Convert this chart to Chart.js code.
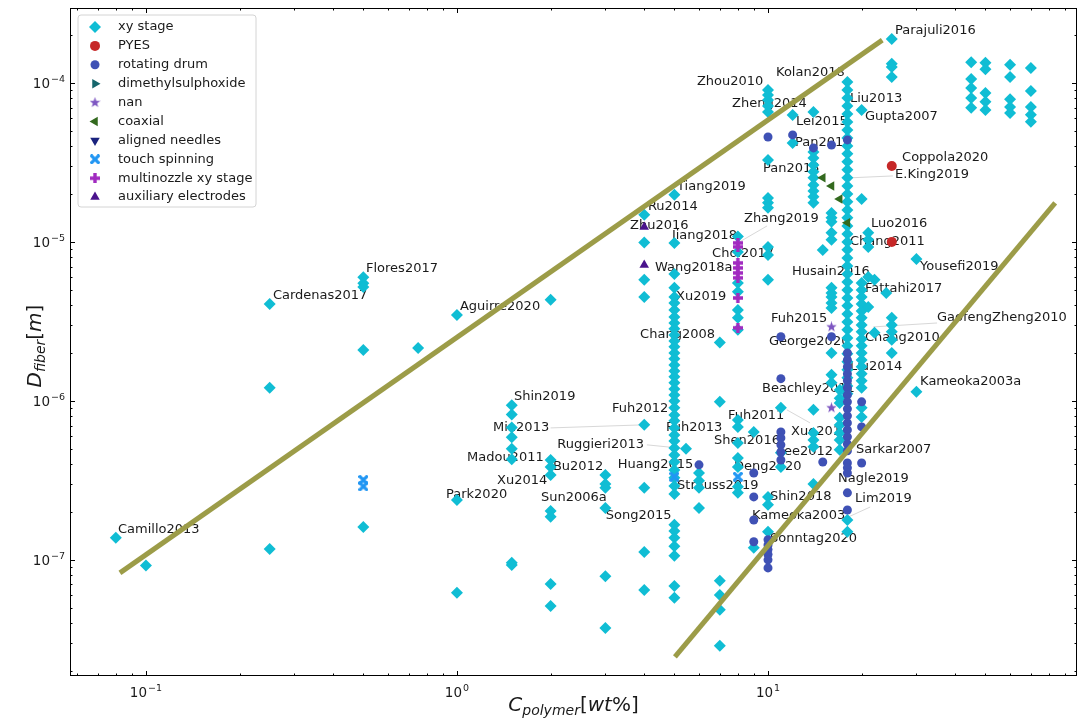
<!DOCTYPE html>
<html>
<head>
<meta charset="utf-8">
<title>Fiber diameter vs polymer concentration</title>
<script src="https://cdn.jsdelivr.net/npm/chart.js@4.4.1/dist/chart.umd.min.js"></script>
<style>
    html, body { margin: 0; padding: 0; background: #fff; }
    canvas { display: block; }
</style>
</head>
<body>
<canvas id="fiberChart" width="1078" height="720"></canvas>
<script>
// Axis limits (both log)
const xLimits = [0.057, 98.5];
const yLimits = [1.86e-8, 2.96e-4];

// Points per setup: [C_polymer (wt%), D_fiber (m)]
const xyStage = [
    [0.08, 1.38e-7], [0.1, 9.2e-8],
    [0.25, 4.07e-6], [0.25, 1.21e-6], [0.25, 1.17e-7],
    [0.5, 6.0e-6], [0.5, 5.5e-6], [0.5, 5.2e-6], [0.5, 2.09e-6], [0.5, 1.61e-7],
    [0.75, 2.15e-6],
    [1, 3.47e-6], [1, 2.38e-7], [1, 6.2e-8],
    [1.5, 9.4e-7], [1.5, 8.2e-7], [1.5, 6.8e-7], [1.5, 5.9e-7], [1.5, 5.0e-7], [1.5, 4.3e-7], [1.5, 9.6e-8], [1.5, 9.3e-8],
    [2, 4.32e-6], [2, 4.25e-7], [2, 3.84e-7], [2, 3.42e-7], [2, 2.03e-7], [2, 1.87e-7], [2, 7.06e-8], [2, 5.13e-8],
    [3, 3.42e-7], [3, 3.0e-7], [3, 2.84e-7], [3, 2.12e-7], [3, 7.9e-8], [3, 3.73e-8],
    [4, 1.48e-5], [4, 9.9e-6], [4, 5.77e-6], [4, 4.5e-6], [4, 7.07e-7], [4, 2.84e-7], [4, 1.12e-7], [4, 6.47e-8],
    [5, 1.98e-5], [5, 9.86e-6], [5, 6.29e-6], [5, 5.14e-6], [5, 4.51e-6], [5, 4.13e-6], [5, 3.73e-6], [5, 3.37e-6],
    [5, 3.09e-6], [5, 2.84e-6], [5, 2.6e-6], [5, 2.38e-6], [5, 2.19e-6], [5, 2.0e-6], [5, 1.84e-6], [5, 1.68e-6],
    [5, 1.54e-6], [5, 1.42e-6], [5, 1.3e-6], [5, 1.19e-6], [5, 1.09e-6], [5, 1.0e-6], [5, 9.04e-7], [5, 8.16e-7],
    [5, 7.49e-7], [5, 6.76e-7], [5, 6.11e-7], [5, 5.6e-7], [5, 5.06e-7], [5, 4.57e-7], [5, 4.13e-7], [5, 3.68e-7],
    [5, 3.28e-7], [5, 2.92e-7], [5, 2.6e-7], [5, 1.66e-7], [5, 1.52e-7], [5, 1.38e-7], [5, 1.22e-7], [5, 1.06e-7],
    [5, 6.86e-8], [5, 5.77e-8],
    [5.45, 5.0e-7],
    [6, 3.52e-7], [6, 3.14e-7], [6, 2.84e-7], [6, 2.12e-7],
    [7, 2.33e-6], [7, 9.86e-7], [7, 7.38e-8], [7, 6.02e-8], [7, 4.85e-8], [7, 2.88e-8],
    [8, 1.08e-5], [8, 8.65e-6], [8, 5.52e-6], [8, 4.85e-6], [8, 3.73e-6], [8, 3.33e-6], [8, 2.8e-6],
    [8, 7.59e-7], [8, 6.86e-7], [8, 5.44e-7], [8, 4.38e-7], [8, 3.84e-7], [8, 2.88e-7], [8, 2.64e-7],
    [9, 6.38e-7], [9, 1.19e-7],
    [10, 9.04e-5], [10, 8.4e-5], [10, 7.82e-5], [10, 7.17e-5], [10, 6.57e-5], [10, 3.28e-5], [10, 1.89e-5],
    [10, 1.76e-5], [10, 1.64e-5], [10, 9.3e-6], [10, 8.28e-6], [10, 5.77e-6], [10, 2.49e-7], [10, 2.22e-7], [10, 1.5e-7],
    [11, 9.04e-7], [11, 4.71e-7], [11, 3.84e-7],
    [12, 6.29e-5], [12, 4.19e-5],
    [14, 6.57e-5], [14, 3.68e-5], [14, 3.37e-5], [14, 3.05e-5], [14, 2.76e-5], [14, 2.53e-5], [14, 2.28e-5],
    [14, 2.09e-5], [14, 1.92e-5], [14, 1.76e-5], [14, 8.78e-7], [14, 6.29e-7], [14, 5.68e-7], [14, 5.14e-7], [14, 3.0e-7],
    [15, 8.9e-6],
    [16, 1.52e-5], [16, 1.42e-5], [16, 1.34e-5], [16, 1.14e-5], [16, 1.03e-5], [16, 5.14e-6], [16, 4.77e-6],
    [16, 4.51e-6], [16, 4.13e-6], [16, 3.84e-6], [16, 2.0e-6], [16, 1.46e-6], [16, 1.3e-6],
    [17, 1.17e-6], [17, 1.04e-6], [17, 9.71e-7], [17, 7.82e-7], [17, 7.06e-7], [17, 6.29e-7], [17, 5.68e-7], [17, 4.92e-7],
    [18, 1.015e-4], [18, 9.04e-5], [18, 8.05e-5], [18, 7.17e-5], [18, 6.38e-5], [18, 5.68e-5], [18, 5.06e-5],
    [18, 4.51e-5], [18, 4.01e-5], [18, 3.58e-5], [18, 3.19e-5], [18, 2.84e-5], [18, 2.53e-5], [18, 2.25e-5],
    [18, 2.0e-5], [18, 1.79e-5], [18, 1.59e-5], [18, 1.42e-5], [18, 1.26e-5], [18, 1.12e-5], [18, 1.0e-5],
    [18, 8.91e-6], [18, 7.93e-6], [18, 7.06e-6], [18, 6.29e-6], [18, 5.6e-6], [18, 4.99e-6], [18, 4.44e-6],
    [18, 3.96e-6], [18, 3.52e-6], [18, 3.14e-6], [18, 2.8e-6], [18, 2.49e-6], [18, 2.22e-6], [18, 1.98e-6],
    [18, 1.76e-6], [18, 1.57e-6], [18, 1.4e-6], [18, 1.24e-6], [18, 1.11e-6], [18, 1.78e-7], [18, 1.5e-7],
    [20, 6.76e-5], [20, 1.86e-5], [20, 5.52e-6], [20, 4.99e-6], [20, 4.51e-6], [20, 4.07e-6], [20, 3.68e-6],
    [20, 3.33e-6], [20, 3.0e-6], [20, 2.72e-6], [20, 2.45e-6], [20, 2.22e-6], [20, 2.0e-6], [20, 1.81e-6],
    [20, 1.64e-6], [20, 1.48e-6], [20, 1.34e-6], [20, 1.21e-6], [20, 9.04e-7], [20, 7.93e-7],
    [21, 1.14e-5], [21, 1.03e-5], [21, 9.3e-6], [21, 6.02e-6], [21, 3.9e-6],
    [22, 5.77e-6], [22, 2.68e-6],
    [24, 4.77e-6],
    [25, 1.89e-4], [25, 1.32e-4], [25, 1.26e-4], [25, 1.09e-4], [25, 3.33e-6], [25, 3.0e-6], [25, 2.72e-6], [25, 2.42e-6], [25, 2.0e-6],
    [30, 7.82e-6], [30, 1.14e-6],
    [45, 1.35e-4], [45, 1.06e-4], [45, 9.3e-5], [45, 8.05e-5], [45, 6.97e-5],
    [50, 1.34e-4], [50, 1.22e-4], [50, 8.65e-5], [50, 7.6e-5], [50, 6.76e-5],
    [60, 1.3e-4], [60, 1.09e-4], [60, 7.9e-5], [60, 7.06e-5], [60, 6.47e-5],
    [70, 1.24e-4], [70, 8.9e-5], [70, 7.06e-5], [70, 6.3e-5], [70, 5.7e-5]
];
const pyes = [[25, 3.0e-5], [25, 1.0e-5]];
const rotatingDrum = [
    [6, 3.96e-7],
    [9, 3.52e-7], [9, 2.49e-7], [9, 1.78e-7], [9, 1.3e-7],
    [10, 4.57e-5], [10, 1.34e-7], [10, 1.24e-7], [10, 1.16e-7], [10, 1.08e-7], [10, 1.0e-7], [10, 8.9e-8],
    [11, 2.53e-6], [11, 1.38e-6], [11, 6.38e-7], [11, 5.85e-7], [11, 5.29e-7], [11, 4.77e-7], [11, 4.25e-7],
    [12, 4.71e-5], [14, 3.9e-5], [15, 4.13e-7], [16, 4.07e-5], [16, 2.53e-6],
    [18, 4.38e-5], [18, 2.0e-6], [18, 1.81e-6], [18, 1.64e-6], [18, 1.48e-6], [18, 1.34e-6], [18, 1.21e-6],
    [18, 1.09e-6], [18, 9.86e-7], [18, 8.91e-7], [18, 8.05e-7], [18, 7.27e-7], [18, 6.57e-7], [18, 5.94e-7],
    [18, 5.36e-7], [18, 4.85e-7], [18, 4.07e-7], [18, 3.79e-7], [18, 3.52e-7], [18, 2.64e-7], [18, 2.06e-7],
    [20, 9.86e-7], [20, 6.86e-7], [20, 4.07e-7]
];
const dimethylsulphoxide = [];
const nanSetup = [[16, 2.92e-6], [16, 9.04e-7]];
const coaxial = [[15, 2.53e-5], [16, 2.25e-5], [17, 1.86e-5], [18, 1.32e-5]];
const alignedNeedles = [];
const touchSpinning = [[0.5, 3.18e-7], [0.5, 2.9e-7], [5, 3.33e-7], [8, 3.33e-7]];
const multinozzle = [[8, 9.86e-6], [8, 9.3e-6], [8, 7.38e-6], [8, 6.86e-6], [8, 6.38e-6], [8, 5.94e-6], [8, 4.44e-6], [8, 2.88e-6]];
const auxElectrodes = [[4, 1.24e-5], [4, 7.17e-6]];

// Bounding lines
const upperBound = [[0.0825, 8.28e-8], [23.3, 1.86e-4]];
const lowerBound = [[5.02, 2.45e-8], [83.8, 1.76e-5]];

// Reference labels: [text, x, y] (text starts at x, centred on y)
const refLabels = [
    ['Parajuli2016', 25.6, 2.12e-4], ['Zhou2010', 5.91, 1.015e-4], ['Kolan2018', 10.61, 1.156e-4],
    ['Zheng2014', 7.66, 7.38e-5], ['Liu2013', 18.35, 7.93e-5], ['Gupta2007', 20.51, 6.11e-5],
    ['Lei2015', 12.3, 5.68e-5], ['Pan2014', 12.22, 4.19e-5], ['Pan2015', 9.64, 2.88e-5],
    ['Coppola2020', 26.98, 3.38e-5], ['E.King2019', 25.61, 2.64e-5], ['Tiang2019', 5.1, 2.22e-5],
    ['Ru2014', 4.11, 1.66e-5], ['Zhu2016', 3.6, 1.26e-5], ['Jiang2018', 4.91, 1.09e-5],
    ['Zhang2019', 8.37, 1.4e-5], ['Luo2016', 21.44, 1.3e-5], ['Chang2011', 18.35, 1.0e-5],
    ['Choi2017', 6.61, 8.4e-6], ['Husain2016', 11.95, 6.48e-6], ['Wang2018a', 4.33, 6.86e-6],
    ['Yousefi2019', 30.83, 6.96e-6], ['Fattahi2017', 20.51, 5.06e-6], ['Xu2019', 5.06, 4.51e-6],
    ['GaofengZheng2010', 34.95, 3.33e-6], ['Fuh2015', 10.22, 3.28e-6], ['Chang2008', 3.88, 2.6e-6],
    ['George2020', 10.07, 2.35e-6], ['Chang2010', 20.51, 2.49e-6], ['Liu2014', 18.35, 1.64e-6],
    ['Beachley2011', 9.57, 1.19e-6], ['Kameoka2003a', 30.83, 1.32e-6], ['Shin2019', 1.525, 1.06e-6],
    ['Fuh2012', 3.15, 8.91e-7], ['Min2013', 1.306, 6.76e-7], ['Fuh2011', 7.44, 8.04e-7],
    ['Fuh2013', 4.7, 6.76e-7], ['Xue2014', 11.86, 6.38e-7], ['Ruggieri2013', 2.1, 5.29e-7],
    ['Shen2016', 6.71, 5.6e-7], ['Madou2011', 1.077, 4.38e-7], ['Lee2012', 10.69, 4.78e-7],
    ['Sarkar2007', 19.19, 4.92e-7], ['Bu2012', 2.035, 3.85e-7], ['Huang2015', 3.29, 3.96e-7],
    ['Deng2020', 7.77, 3.85e-7], ['Xu2014', 1.345, 3.14e-7], ['Nagle2019', 16.8, 3.23e-7],
    ['Strauss2019', 5.1, 2.92e-7], ['Park2020', 0.922, 2.56e-7], ['Sun2006a', 1.863, 2.45e-7],
    ['Shin2018', 10.15, 2.49e-7], ['Lim2019', 19.05, 2.42e-7], ['Song2015', 3.01, 1.89e-7],
    ['Kameoka2003', 8.88, 1.89e-7], ['Sonntag2020', 10.15, 1.37e-7], ['Camillo2013', 0.0813, 1.54e-7],
    ['Cardenas2017', 0.256, 4.57e-6], ['Flores2017', 0.51, 6.76e-6], ['Aguirre2020', 1.022, 3.9e-6]
];

// Faint leader lines: [x1, y1, x2, y2]
const leaderLines = [
    [2.0, 6.76e-7, 4, 7.07e-7],
    [4.08, 5.29e-7, 5.45, 5.0e-7],
    [25.2, 2.6e-5, 18.4, 2.53e-5],
    [9.93, 1.26e-5, 8, 9.86e-6],
    [34.95, 3.09e-6, 21.8, 2.92e-6],
    [11.5, 8.78e-7, 13.65, 7.27e-7],
    [21.3, 2.15e-7, 17.9, 1.84e-7]
];

const colors = {
    cyan: '#10bdd4',
    red: '#c62828',
    indigo: '#3f51b5',
    teal: '#16666c',
    violet: '#7e57c2',
    green: '#33691e',
    navy: '#1a237e',
    blue: '#2196f3',
    magenta: '#a12bc0',
    purple: '#4a148c',
    olive: '#9c9c48'
};

const FONT = '"DejaVu Sans", sans-serif';

// Filled marker images that Chart.js has no built-in for
function makeMarker(size, color, shape) {
    const c = document.createElement('canvas');
    c.width = size;
    c.height = size;
    const g = c.getContext('2d');
    const h = size / 2;
    g.fillStyle = color;
    g.beginPath();
    if (shape === 'star') {
        for (let i = 0; i < 10; i++) {
            const r = i % 2 ? h * 0.42 : h;
            const a = -Math.PI / 2 + i * Math.PI / 5;
            g.lineTo(h + r * Math.cos(a), h + r * Math.sin(a));
        }
        g.closePath();
    } else if (shape === 'plus') {
        const t = size * 0.17;
        g.rect(h - t, 0, 2 * t, size);
        g.rect(0, h - t, size, 2 * t);
    } else {
        g.translate(h, h);
        g.rotate(Math.PI / 4);
        const t = size * 0.16, L = h * 1.25;
        g.rect(-t, -L, 2 * t, 2 * L);
        g.rect(-L, -t, 2 * L, 2 * t);
    }
    g.fill();
    return c;
}

const series = [
    { label: 'xy stage', data: xyStage, style: 'rectRot', color: colors.cyan, radius: 6 },
    { label: 'PYES', data: pyes, style: 'circle', color: colors.red, radius: 5 },
    { label: 'rotating drum', data: rotatingDrum, style: 'circle', color: colors.indigo, radius: 4.5 },
    { label: 'dimethylsulphoxide', data: dimethylsulphoxide, style: 'triangle', rotation: 90, color: colors.teal, radius: 5.5 },
    { label: 'nan', data: nanSetup, style: makeMarker(11, colors.violet, 'star'), color: colors.violet, radius: 5 },
    { label: 'coaxial', data: coaxial, style: 'triangle', rotation: -90, color: colors.green, radius: 5.5 },
    { label: 'aligned needles', data: alignedNeedles, style: 'triangle', rotation: 180, color: colors.navy, radius: 5.5 },
    { label: 'touch spinning', data: touchSpinning, style: makeMarker(10, colors.blue, 'x'), color: colors.blue, radius: 5 },
    { label: 'multinozzle xy stage', data: multinozzle, style: makeMarker(10, colors.magenta, 'plus'), color: colors.magenta, radius: 5 },
    { label: 'auxiliary electrodes', data: auxElectrodes, style: 'triangle', color: colors.purple, radius: 5.5 }
];

const toPoints = arr => arr.map(([x, y]) => ({ x, y }));

const datasets = series.map((s, i) => ({
    type: 'scatter',
    label: s.label,
    data: toPoints(s.data),
    pointStyle: s.style,
    pointRotation: s.rotation || 0,
    pointRadius: s.radius,
    pointBackgroundColor: s.color,
    pointBorderWidth: 0,
    order: 20 - i
}));

[upperBound, lowerBound].forEach(line => {
    datasets.push({
        type: 'line',
        data: toPoints(line),
        borderColor: colors.olive,
        borderWidth: 5,
        borderCapStyle: 'butt',
        pointRadius: 0,
        fill: false,
        order: 0
    });
});

// Draw a 10^n label in mathtext style
function drawPower(ctx, exp, x, y, align) {
    const base = '10';
    const sup = (exp < 0 ? '\u2212' : '') + Math.abs(exp);
    ctx.font = '13.5px ' + FONT;
    const wb = ctx.measureText(base).width;
    ctx.font = '9.5px ' + FONT;
    const ws = ctx.measureText(sup).width;
    const total = wb + ws + 1;
    const x0 = align === 'center' ? x - total / 2 : x - total;
    ctx.textAlign = 'left';
    ctx.textBaseline = 'alphabetic';
    ctx.font = '13.5px ' + FONT;
    ctx.fillText(base, x0, y);
    ctx.font = '9.5px ' + FONT;
    ctx.fillText(sup, x0 + wb + 1, y - 6);
}

// Italic symbol with subscript, e.g. D_fiber[m]
function drawMath(ctx, parts, cx, baseline, size) {
    const fontOf = p => (p.it ? 'italic ' : '') + (p.sub ? size * 0.7 : size) + 'px ' + FONT;
    let total = 0;
    parts.forEach(p => {
        ctx.font = fontOf(p);
        p.w = ctx.measureText(p.t).width;
        total += p.w;
    });
    let x = cx - total / 2;
    ctx.textAlign = 'left';
    ctx.textBaseline = 'alphabetic';
    parts.forEach(p => {
        ctx.font = fontOf(p);
        ctx.fillText(p.t, x, baseline + (p.sub ? size * 0.22 : 0));
        x += p.w;
    });
}

const overlay = {
    id: 'overlay',
    beforeDraw(chart) {
        const ctx = chart.ctx;
        ctx.save();
        ctx.fillStyle = '#ffffff';
        ctx.fillRect(0, 0, chart.width, chart.height);
        ctx.restore();
    },
    beforeDatasetsDraw(chart) {
        const { ctx, scales: { x, y } } = chart;
        ctx.save();
        ctx.strokeStyle = '#d8d8d8';
        ctx.lineWidth = 1;
        leaderLines.forEach(([x1, y1, x2, y2]) => {
            ctx.beginPath();
            ctx.moveTo(x.getPixelForValue(x1), y.getPixelForValue(y1));
            ctx.lineTo(x.getPixelForValue(x2), y.getPixelForValue(y2));
            ctx.stroke();
        });
        ctx.fillStyle = '#1a1a1a';
        ctx.font = '13px ' + FONT;
        ctx.textAlign = 'left';
        ctx.textBaseline = 'middle';
        refLabels.forEach(([text, lx, ly]) => {
            ctx.fillText(text, x.getPixelForValue(lx), y.getPixelForValue(ly));
        });
        ctx.restore();
    },
    afterDraw(chart) {
        const { ctx, chartArea: a, scales: { x, y } } = chart;
        ctx.save();

        // Frame
        ctx.strokeStyle = '#000000';
        ctx.lineWidth = 1;
        ctx.strokeRect(a.left + 0.5, a.top + 0.5, a.right - a.left - 1, a.bottom - a.top - 1);

        // Inward major and minor ticks on all sides
        ctx.beginPath();
        for (let n = -2; n <= 2; n++) {
            for (let m = 1; m <= 9; m++) {
                const v = m * Math.pow(10, n);
                if (v < xLimits[0] || v > xLimits[1]) continue;
                const px = Math.round(x.getPixelForValue(v)) + 0.5;
                const len = m === 1 ? 5 : 2.5;
                ctx.moveTo(px, a.bottom); ctx.lineTo(px, a.bottom - len);
                ctx.moveTo(px, a.top); ctx.lineTo(px, a.top + len);
            }
        }
        for (let n = -9; n <= -3; n++) {
            for (let m = 1; m <= 9; m++) {
                const v = m * Math.pow(10, n);
                if (v < yLimits[0] || v > yLimits[1]) continue;
                const py = Math.round(y.getPixelForValue(v)) + 0.5;
                const len = m === 1 ? 5 : 2.5;
                ctx.moveTo(a.left, py); ctx.lineTo(a.left + len, py);
                ctx.moveTo(a.right, py); ctx.lineTo(a.right - len, py);
            }
        }
        ctx.stroke();

        // Tick labels
        ctx.fillStyle = '#1a1a1a';
        [-1, 0, 1].forEach(n => drawPower(ctx, n, x.getPixelForValue(Math.pow(10, n)), a.bottom + 21, 'center'));
        [-4, -5, -6, -7].forEach(n => drawPower(ctx, n, a.left - 5, y.getPixelForValue(Math.pow(10, n)) + 5, 'right'));

        // Axis titles
        drawMath(ctx, [
            { t: 'C', it: true }, { t: 'polymer', it: true, sub: true },
            { t: '[' }, { t: 'wt', it: true }, { t: '%' }, { t: ']' }
        ], (a.left + a.right) / 2, 711, 20);
        ctx.save();
        ctx.translate(41, 346);
        ctx.rotate(-Math.PI / 2);
        drawMath(ctx, [
            { t: 'D', it: true }, { t: 'fiber', it: true, sub: true },
            { t: '[' }, { t: 'm', it: true }, { t: ']' }
        ], 0, 0, 20);
        ctx.restore();

        // Legend
        const lx = 78, ly = 15, lw = 178, lh = 192, r = 3;
        ctx.beginPath();
        ctx.moveTo(lx + r, ly);
        ctx.arcTo(lx + lw, ly, lx + lw, ly + lh, r);
        ctx.arcTo(lx + lw, ly + lh, lx, ly + lh, r);
        ctx.arcTo(lx, ly + lh, lx, ly, r);
        ctx.arcTo(lx, ly, lx + lw, ly, r);
        ctx.closePath();
        ctx.fillStyle = 'rgba(255,255,255,0.85)';
        ctx.fill();
        ctx.strokeStyle = '#d4d4d4';
        ctx.lineWidth = 1;
        ctx.stroke();

        const drawPoint = Chart.helpers && Chart.helpers.drawPoint;
        series.forEach((s, i) => {
            const rowY = ly + 12 + i * 18.9;
            ctx.fillStyle = s.color;
            if (drawPoint) {
                drawPoint(ctx, { pointStyle: s.style, rotation: s.rotation || 0, radius: s.radius, borderWidth: 0 }, 95, rowY);
            }
            ctx.fillStyle = '#1a1a1a';
            ctx.font = '13px ' + FONT;
            ctx.textAlign = 'left';
            ctx.textBaseline = 'middle';
            ctx.fillText(s.label, 118, rowY);
        });

        ctx.restore();
    }
};

new Chart(document.getElementById('fiberChart'), {
    type: 'scatter',
    data: { datasets },
    options: {
        responsive: false,
        animation: false,
        events: [],
        layout: { autoPadding: false, padding: { top: 8, right: 1, left: 0, bottom: 0 } },
        plugins: {
            legend: { display: false },
            tooltip: { enabled: false }
        },
        scales: {
            x: {
                type: 'logarithmic',
                min: xLimits[0],
                max: xLimits[1],
                ticks: { display: false },
                grid: { display: false },
                border: { display: false },
                afterFit(scale) { scale.height = 44; }
            },
            y: {
                type: 'logarithmic',
                min: yLimits[0],
                max: yLimits[1],
                ticks: { display: false },
                grid: { display: false },
                border: { display: false },
                afterFit(scale) { scale.width = 70; }
            }
        }
    },
    plugins: [overlay]
});
</script>
</body>
</html>
